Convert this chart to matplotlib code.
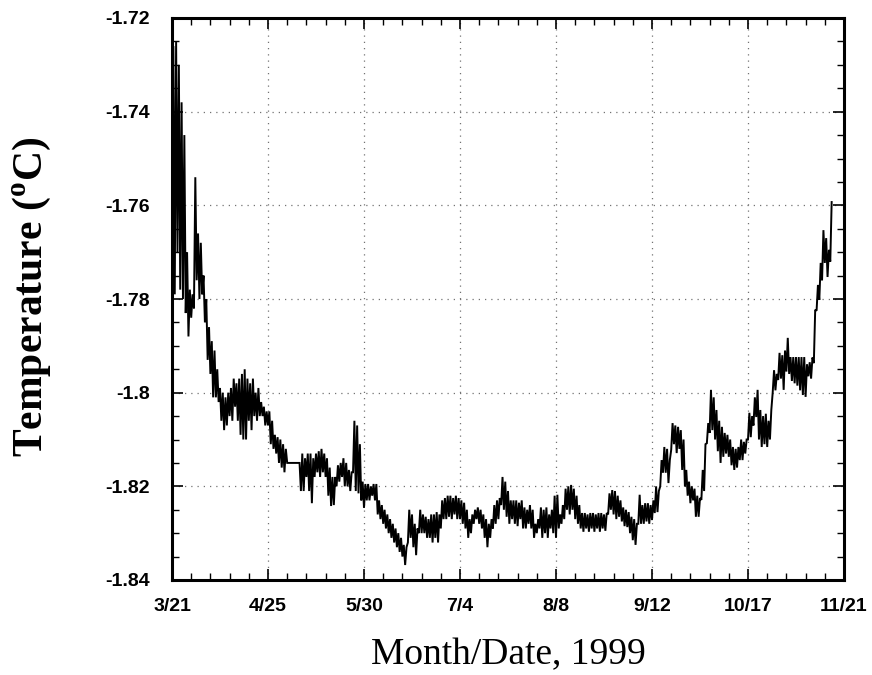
import numpy as np
import matplotlib
matplotlib.use("Agg")
import matplotlib.pyplot as plt
from matplotlib.ticker import MultipleLocator, FixedLocator

# Day index counted from 3/21/1999
days = list(range(0, 241))

# daily minimum temperature (deg C)
t_low = [
    -1.772, -1.779, -1.770, -1.778, -1.780, -1.783, -1.788, -1.784, -1.782, -1.776,
    -1.780, -1.779, -1.785, -1.793, -1.796, -1.801, -1.801, -1.802, -1.806, -1.808,
    -1.807, -1.805, -1.806, -1.803, -1.806, -1.809, -1.810, -1.810, -1.806, -1.808,
    -1.805, -1.806, -1.805, -1.805, -1.807, -1.807, -1.811, -1.812, -1.813, -1.815,
    -1.816, -1.817, -1.815, -1.815, -1.815, -1.815, -1.815, -1.821, -1.821, -1.818,
    -1.821, -1.8236, -1.818, -1.817, -1.818, -1.817, -1.818, -1.822, -1.8242, -1.824,
    -1.820, -1.819, -1.818, -1.820, -1.820, -1.821, -1.817, -1.821, -1.8215, -1.823,
    -1.8246, -1.823, -1.823, -1.822, -1.823, -1.826, -1.827, -1.828, -1.829, -1.830,
    -1.831, -1.832, -1.833, -1.834, -1.835, -1.8368, -1.832, -1.831, -1.833, -1.8347,
    -1.830, -1.830, -1.830, -1.831, -1.831, -1.832, -1.831, -1.832, -1.829, -1.827,
    -1.827, -1.8265, -1.827, -1.826, -1.827, -1.827, -1.828, -1.829, -1.831, -1.830,
    -1.828, -1.827, -1.828, -1.829, -1.831, -1.833, -1.831, -1.829, -1.828, -1.827,
    -1.824, -1.825, -1.8265, -1.828, -1.827, -1.828, -1.8285, -1.827, -1.829, -1.829,
    -1.828, -1.829, -1.831, -1.830, -1.829, -1.831, -1.830, -1.831, -1.829, -1.830,
    -1.831, -1.829, -1.828, -1.827, -1.825, -1.826, -1.825, -1.827, -1.828, -1.829,
    -1.8297, -1.829, -1.8297, -1.829, -1.8297, -1.829, -1.8297, -1.829, -1.8295, -1.826,
    -1.825, -1.826, -1.827, -1.8265, -1.8275, -1.8285, -1.8287, -1.830, -1.8315, -1.8325,
    -1.828, -1.828, -1.828, -1.8275, -1.828, -1.8272, -1.8257, -1.8255, -1.820, -1.8171,
    -1.8171, -1.8193, -1.8122, -1.811, -1.8129, -1.812, -1.8165, -1.820, -1.822, -1.8236,
    -1.823, -1.8265, -1.8265, -1.8229, -1.821, -1.8108, -1.8086, -1.808, -1.810, -1.8125,
    -1.815, -1.8137, -1.813, -1.8137, -1.8155, -1.8165, -1.816, -1.8144, -1.8144, -1.813,
    -1.810, -1.8095, -1.807, -1.8052, -1.810, -1.8116, -1.811, -1.8116, -1.810, -1.800,
    -1.7995, -1.7973, -1.797, -1.7994, -1.7955, -1.796, -1.7975, -1.798, -1.7985, -1.7995,
    -1.8005, -1.8009, -1.7965, -1.797, -1.7937, -1.7825, -1.7802, -1.776, -1.7723, -1.7753,
    -1.772,
]

# daily maximum temperature (deg C)
t_high = [
    -1.726, -1.725, -1.730, -1.738, -1.745, -1.770, -1.778, -1.779, -1.754, -1.766,
    -1.768, -1.775, -1.780, -1.786, -1.789, -1.791, -1.795, -1.799, -1.800, -1.801,
    -1.800, -1.799, -1.797, -1.798, -1.797, -1.796, -1.795, -1.797, -1.798, -1.797,
    -1.800, -1.799, -1.802, -1.803, -1.804, -1.804, -1.806, -1.809, -1.8095, -1.810,
    -1.811, -1.812, -1.815, -1.815, -1.815, -1.815, -1.815, -1.813, -1.814, -1.813,
    -1.813, -1.814, -1.813, -1.8125, -1.812, -1.813, -1.814, -1.816, -1.818, -1.818,
    -1.8155, -1.815, -1.814, -1.815, -1.8165, -1.817, -1.806, -1.807, -1.811, -1.819,
    -1.8195, -1.8195, -1.820, -1.8195, -1.8195, -1.823, -1.824, -1.825, -1.826, -1.827,
    -1.828, -1.829, -1.830, -1.831, -1.8325, -1.833, -1.825, -1.826, -1.828, -1.829,
    -1.825, -1.826, -1.8265, -1.827, -1.826, -1.826, -1.8255, -1.826, -1.823, -1.8225,
    -1.822, -1.822, -1.8225, -1.822, -1.8225, -1.823, -1.8235, -1.825, -1.827, -1.826,
    -1.825, -1.8245, -1.825, -1.826, -1.827, -1.828, -1.827, -1.824, -1.823, -1.8225,
    -1.818, -1.819, -1.821, -1.823, -1.823, -1.823, -1.8235, -1.823, -1.8245, -1.825,
    -1.824, -1.825, -1.828, -1.827, -1.8245, -1.825, -1.8245, -1.826, -1.825, -1.822,
    -1.8218, -1.826, -1.824, -1.8205, -1.820, -1.8197, -1.8205, -1.822, -1.824, -1.8257,
    -1.8257, -1.826, -1.8257, -1.8257, -1.826, -1.8257, -1.8257, -1.826, -1.8257, -1.8215,
    -1.8208, -1.821, -1.822, -1.823, -1.8245, -1.825, -1.8255, -1.8265, -1.827, -1.828,
    -1.8218, -1.824, -1.8236, -1.8236, -1.824, -1.823, -1.820, -1.821, -1.8144, -1.8116,
    -1.812, -1.8144, -1.8065, -1.807, -1.8073, -1.808, -1.810, -1.8165, -1.819, -1.820,
    -1.8205, -1.822, -1.8225, -1.8165, -1.811, -1.8065, -1.7994, -1.801, -1.8037, -1.806,
    -1.8073, -1.8086, -1.809, -1.810, -1.8116, -1.812, -1.8116, -1.810, -1.8105, -1.810,
    -1.8043, -1.805, -1.801, -1.7994, -1.8037, -1.805, -1.8045, -1.806, -1.8037, -1.7952,
    -1.796, -1.7915, -1.792, -1.791, -1.7883, -1.7924, -1.7924, -1.7924, -1.7924, -1.7924,
    -1.7924, -1.794, -1.7935, -1.7925, -1.7823, -1.777, -1.7723, -1.7653, -1.767, -1.7695,
    -1.7593,
]

x_ticks = [0, 35, 70, 105, 140, 175, 210, 245]
x_tick_labels = ["3/21", "4/25", "5/30", "7/4", "8/8", "9/12", "10/17", "11/21"]
y_ticks = [-1.84, -1.82, -1.80, -1.78, -1.76, -1.74, -1.72]
y_tick_labels = ["-1.84", "-1.82", "-1.8", "-1.78", "-1.76", "-1.74", "-1.72"]

plt.rcParams["mathtext.fontset"] = "custom"
plt.rcParams["mathtext.rm"] = "Liberation Serif:bold"
plt.rcParams["mathtext.bf"] = "Liberation Serif:bold"

d = np.asarray(days, dtype=float)
lo = np.asarray(t_low)
hi = np.asarray(t_high)
# each day drawn as a min->max excursion of the record
xs = np.column_stack([d, d + 0.5]).ravel()
ys = np.column_stack([lo, hi]).ravel()

fig = plt.figure(figsize=(8.72, 6.75), dpi=100)
ax = fig.add_axes([172 / 872, 1 - 580 / 675, 672 / 872, 562 / 675])

ax.plot(xs, ys, color="black", lw=1.4, solid_joinstyle="miter")

ax.set_xlim(0, 245)
ax.set_ylim(-1.84, -1.72)
ax.xaxis.set_major_locator(FixedLocator(x_ticks))
ax.set_xticklabels(x_tick_labels)
ax.xaxis.set_minor_locator(MultipleLocator(7))
ax.yaxis.set_major_locator(FixedLocator(y_ticks))
ax.set_yticklabels(y_tick_labels)
ax.yaxis.set_minor_locator(MultipleLocator(0.005))

ax.grid(True, which="major", color="0.45", linestyle=(0, (1, 4)), linewidth=0.9)

for s in ax.spines.values():
    s.set_linewidth(2.2)

ax.tick_params(which="both", direction="in", top=True, right=True)
ax.tick_params(which="major", length=8, width=1.2)
ax.tick_params(which="minor", length=5, width=1.0)
ax.tick_params(axis="y", pad=16)
ax.tick_params(axis="x", pad=13)
for lab in ax.get_xticklabels() + ax.get_yticklabels():
    lab.set_fontfamily("Liberation Sans")
    lab.set_fontsize(14)
    lab.set_fontweight("bold")

fig.text(508 / 872, 1 - 664 / 675, "Month/Date, 1999", family="Liberation Serif",
         fontsize=27, ha="center", va="baseline")
fig.text(32 / 872, 1 - 297 / 675, r"Temperature ($^{\rm o}$C)", family="Liberation Serif",
         fontsize=30, fontweight="bold", rotation=90, ha="center", va="center")

fig.savefig("out.png", dpi=100, facecolor="white")
